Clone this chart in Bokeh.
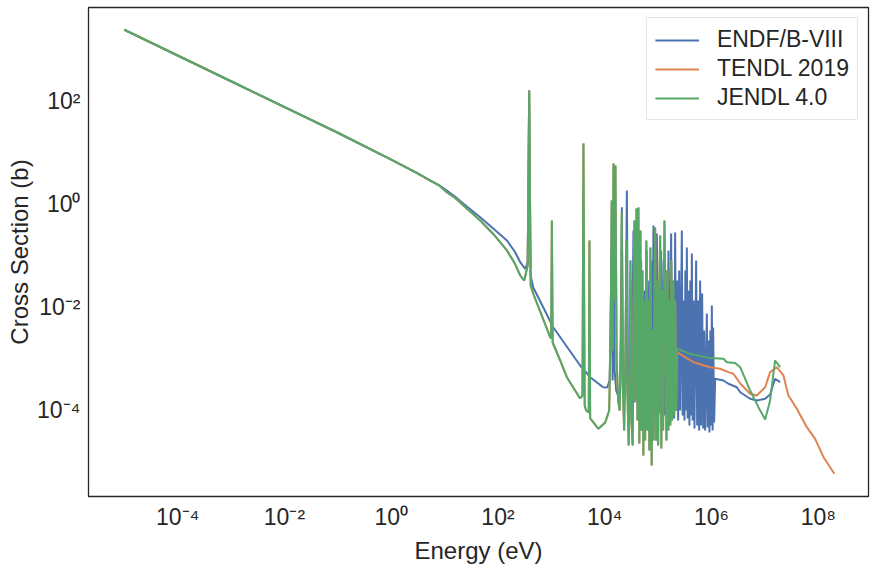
from bokeh.plotting import figure
from bokeh.models import Range1d, FixedTicker, CustomJSTickFormatter
from bokeh.embed import file_html
from bokeh.resources import INLINE

# ---- data (energy in eV, cross section in barns) ----
# shared 1/v part (all libraries coincide)
common_E = [1e-5, 1e-3, 1e-1, 1.0, 3.0, 5.4]
common_sig = [2470, 247, 24.7, 7.4, 4.1, 2.92]

# ENDF/B-VIII beyond the 1/v region
endf_E = [8.0, 11.0, 16.0, 22.6, 46.4, 82.4, 147, 206, 261, 323, 360, 384, 409, 456, 1082, 3459, 5333, 9333, 1.11e4,
          1.236e4, 1.346e4, 1.406e4, 1.468e4, 1.532e4, 1.635e4, 1.782e4, 1.943e4, 2.09e4, 2.211e4,
          2.410e4, 2.594e4, 2.743e4, 2.990e4, 3.055e4, 3.190e4, 3.448e4, 3.630e4, 3.924e4, 4.132e4,
          4.314e4, 4.504e4, 4.805e4, 5.017e4, 5.468e4, 5.710e4, 6.090e4, 6.359e4, 6.785e4, 7.084e4,
          7.396e4, 7.722e4, 8.166e4, 8.600e4, 9.456e4, 1.0e5, 1.044e5, 1.090e5, 1.138e5, 1.188e5,
          1.268e5, 1.324e5, 1.412e5, 1.474e5, 1.560e5, 1.628e5, 1.751e5, 1.829e5, 1.910e5, 1.994e5,
          2.082e5, 2.174e5, 2.269e5, 2.368e5, 2.474e5, 2.582e5, 2.778e5, 2.876e5, 3.003e5, 3.108e5,
          3.231e5, 3.344e5, 3.447e5, 3.568e5, 3.725e5, 3.856e5, 4.009e5, 4.150e5, 4.277e5, 4.427e5,
          4.622e5, 4.785e5, 5.148e5, 5.375e5, 5.612e5, 5.859e5, 6.117e5, 6.332e5, 6.668e5, 6.962e5,
          7.268e5, 7.589e5, 8.166e5, 8.453e5, 8.826e5, 9.135e5, 9.496e5, 9.829e5, 1.013e6, 1.049e6,
          1.072e6, 1.118e6,
          1.17e6, 1.67e6, 2.07e6, 2.98e6, 3.44e6, 5.29e6, 7.05e6, 1.01e7, 1.25e7, 1.55e7, 1.93e7]
endf_sig = [2.35, 1.87, 1.40, 1.03, 0.567, 0.337, 0.200, 0.122, 0.0758, 0.0564, 0.0748, 164, 0.0418, 0.0248, 4.14e-3, 7.48e-4, 4.43e-4, 2.83e-4, 2.8e-4,
            3.83e-4, 0.128, 3.83e-4, 1.20, 5.98e-4, 2.44e-4, 1.95e-4, 2.24e-4, 0.886, 1.95e-4,
            1.71e-4, 1.87, 1.71e-4, 1.56e-4, 0.0334, 1.56e-4, 0.313, 1.43e-4, 0.200, 1.31e-4,
            0.200, 1.25e-4, 0.0818, 1.20e-4, 0.0214, 1.14e-4, 0.128, 1.09e-4, 0.0334, 1.0e-4,
            0.0818, 9.57e-5, 0.391, 9.14e-5, 0.273, 9.14e-5, 0.0334, 8.74e-5, 0.128, 8.36e-5,
            0.0818, 8.0e-5, 0.0523, 7.65e-5, 0.128, 7.65e-5, 0.273, 7.31e-5, 0.0137, 7.0e-5,
            0.286, 1.0e-4, 0.0334, 6.4e-5, 0.0523, 1.0e-4, 0.313, 8.0e-5, 0.0137, 6.4e-5,
            0.0523, 1.0e-4, 0.146, 7.0e-5, 0.0214, 5.12e-5, 0.0334, 8.0e-5, 0.112, 6.4e-5,
            0.0137, 4.47e-5, 0.0818, 5.12e-5, 0.0137, 4.09e-5, 0.0334, 5.12e-5, 0.0187, 4.47e-5,
            3.58e-3, 4.09e-5, 7.64e-3, 4.68e-5, 2.29e-3, 3.74e-5, 3.58e-3, 5.12e-5, 0.0109, 4.09e-5,
            4.09e-3, 5.85e-5,
            4.13e-4, 3.83e-4, 3.30e-4, 2.83e-4, 2.26e-4, 1.69e-4, 1.56e-4, 1.69e-4, 2.05e-4, 4.13e-4, 3.55e-4]

# JENDL 4.0 resolved region (TENDL 2019 coincides here and lies underneath)
jendl_E = [8.0, 11.0, 16.0, 22.6, 46.4, 82.4, 147, 206, 261, 310, 360, 384, 409, 456, 950, 991, 1021, 1058, 1462, 1950,
           3459, 3820, 3990, 4205, 4487, 5010, 5162, 5333, 5730, 7620, 1.02e4, 1.21e4,
           1.29e4, 1.346e4, 1.394e4, 1.455e4, 1.512e4, 1.586e4, 1.671e4, 1.782e4, 1.901e4, 2.028e4,
           2.09e4, 2.164e4, 2.309e4, 2.463e4, 2.539e4, 2.627e4, 2.803e4, 2.926e4, 3.029e4, 3.149e4,
           3.331e4, 3.478e4, 3.600e4, 3.742e4, 3.924e4, 4.097e4, 4.277e4, 4.446e4, 4.662e4, 4.868e4,
           5.082e4, 5.283e4, 5.516e4, 5.710e4, 6.012e4, 6.278e4, 6.555e4, 6.843e4, 7.145e4, 7.556e4,
           7.889e4, 8.237e4, 8.787e4, 9.174e4, 9.578e4, 1.0e5, 1.044e5, 1.090e5, 1.148e5, 1.198e5,
           1.240e5, 1.312e5, 1.370e5, 1.430e5, 1.487e5, 1.553e5, 1.621e5, 1.692e5, 1.767e5, 1.829e5,
           1.910e5, 1.994e5, 2.082e5, 2.174e5]
jendl_sig = [2.32, 1.73, 1.32, 0.957, 0.489, 0.265, 0.128, 0.072, 0.0418, 0.0334, 0.0654, 164, 0.0267, 0.0187, 2.65e-3, 2.50e-3, 0.489, 2.09e-3, 9.35e-4, 4.43e-4,
             1.71e-4, 1.95e-4, 15.3, 1.25e-4, 1.0e-4, 9.14e-5, 0.200, 7.0e-5, 6.4e-5, 4.42e-5, 5.85e-5, 1.0e-4,
             3.58e-3, 1.20, 1.46e-3, 6.25, 0.0137, 5.72, 9.35e-4, 1.56e-4, 1.0e-4, 3.58e-3,
             0.699, 3.83e-4, 4.09e-5, 2.29e-3, 0.200, 3.83e-4, 2.09e-5, 3.83e-4, 0.0818, 6.4e-5,
             2.09e-5, 0.0137, 0.489, 1.56e-4, 0.836, 6.4e-5, 0.874, 2.29e-5, 0.313, 4.09e-5,
             0.0523, 1.34e-5, 0.0137, 2.61e-5, 0.200, 4.09e-5, 0.0137, 1.67e-5, 0.146, 8.55e-6,
             3.58e-3, 2.61e-5, 0.358, 2.61e-5, 0.0334, 2.09e-5, 0.0137, 0.250, 1.83e-5, 0.0214,
             4.09e-5, 0.489, 0.0137, 2.61e-5, 0.0523, 4.09e-5, 0.0137, 5.12e-5, 0.0818, 6.4e-5,
             0.0334, 8.0e-5, 0.0137, 1.0e-4]

# fast-region tails
jendl_tail_E = [2.24e5, 3.97e5, 9.42e5, 1.67e6, 1.94e6, 2.77e6, 3.44e6, 5.29e6, 7.55e6, 1.01e7, 1.25e7, 1.55e7, 1.93e7]
jendl_tail_sig = [1.58e-3, 1.26e-3, 1.04e-3, 1.01e-3, 8.67e-4, 8.36e-4, 6.93e-4, 2.44e-4, 1.16e-4, 6.68e-5, 1.56e-4, 9.35e-4, 6.93e-4]

tendl_tail_E = [2.24e5, 4.58e5, 9.42e5, 1.45e6, 2.07e6, 2.57e6, 3.44e6, 5.29e6, 7.05e6, 8.13e6, 1.01e7, 1.25e7,
                1.67e7, 2.22e7, 2.75e7, 3.96e7, 6.09e7, 8.71e7, 1.25e8, 2.0e8]
tendl_tail_sig = [1.36e-3, 8.67e-4, 6.93e-4, 6.45e-4, 5.55e-4, 5.16e-4, 3.34e-4, 2.11e-4, 1.95e-4, 2.26e-4, 2.83e-4, 5.55e-4,
                  6.93e-4, 4.79e-4, 1.95e-4, 1.08e-4, 4.74e-5, 2.82e-5, 1.24e-5, 5.9e-6]

x_tick_vals = [1e-4, 1e-2, 1.0, 1e2, 1e4, 1e6, 1e8]
x_tick_labels = ["10\u207b\u2074", "10\u207b\u00b2", "10\u2070", "10\u00b2", "10\u2074", "10\u2076", "10\u2078"]
y_tick_vals = [1e-4, 1e-2, 1.0, 1e2]
y_tick_labels = ["10\u207b\u2074", "10\u207b\u00b2", "10\u2070", "10\u00b2"]

series = [
    ("ENDF/B-VIII", common_E + endf_E, common_sig + endf_sig, "#4C72B0"),
    ("TENDL 2019", common_E + jendl_E + tendl_tail_E, common_sig + jendl_sig + tendl_tail_sig, "#DD8452"),
    ("JENDL 4.0", common_E + jendl_E + jendl_tail_E, common_sig + jendl_sig + jendl_tail_sig, "#55A868"),
]

FONT = "Liberation Sans"
TXT = "#262626"

p = figure(width=874, height=568,
           x_axis_type="log", y_axis_type="log",
           x_range=Range1d(10 ** -5.67, 10 ** 8.94),
           y_range=Range1d(10 ** -5.67, 10 ** 3.825),
           output_backend="svg", toolbar_location=None,
           min_border_left=88, min_border_right=6, min_border_top=7, min_border_bottom=72,
           background_fill_color="white", border_fill_color="white")

for name, xs, ys, col in series:
    p.line(xs, ys, line_color=col, line_width=2, legend_label=name)

p.grid.grid_line_color = None
p.outline_line_color = TXT
p.outline_line_width = 1.3

fmt_code = """
const lt = Math.log10(tick);
for (let i = 0; i < vals.length; i++) {
  if (Math.abs(Math.log10(vals[i]) - lt) < 1e-6) { return labels[i]; }
}
return "";
"""

for ax, vals, labels, lab in [(p.xaxis[0], x_tick_vals, x_tick_labels, "Energy (eV)"),
                              (p.yaxis[0], y_tick_vals, y_tick_labels, "Cross Section (b)")]:
    ax.ticker = FixedTicker(ticks=vals)
    ax.formatter = CustomJSTickFormatter(args=dict(vals=vals, labels=labels), code=fmt_code)
    ax.axis_line_color = None
    ax.major_tick_line_color = None
    ax.minor_tick_line_color = None
    ax.major_tick_out = 0
    ax.major_tick_in = 0
    ax.minor_tick_out = 0
    ax.minor_tick_in = 0
    ax.major_label_text_font = FONT
    ax.major_label_text_font_size = "23px"
    ax.major_label_text_color = TXT
    ax.major_label_standoff = 7
    ax.axis_label = lab
    ax.axis_label_text_font = FONT
    ax.axis_label_text_font_size = "24px"
    ax.axis_label_text_font_style = "normal"
    ax.axis_label_text_color = TXT
    ax.axis_label_standoff = 4

p.yaxis[0].major_label_orientation = "horizontal"
p.yaxis[0].major_label_standoff = 8
p.yaxis[0].axis_label_standoff = 1

lg = p.legend[0]
lg.location = "top_right"
lg.label_text_font = FONT
lg.label_text_font_size = "23px"
lg.label_text_color = TXT
lg.border_line_color = "#cccccc"
lg.border_line_width = 1
lg.background_fill_alpha = 0.8
lg.glyph_width = 44
lg.glyph_height = 22
lg.label_height = 22
lg.label_standoff = 18
lg.padding = 8
lg.spacing = 2
lg.margin = 10

open("out.html", "w").write(file_html(p, INLINE))
